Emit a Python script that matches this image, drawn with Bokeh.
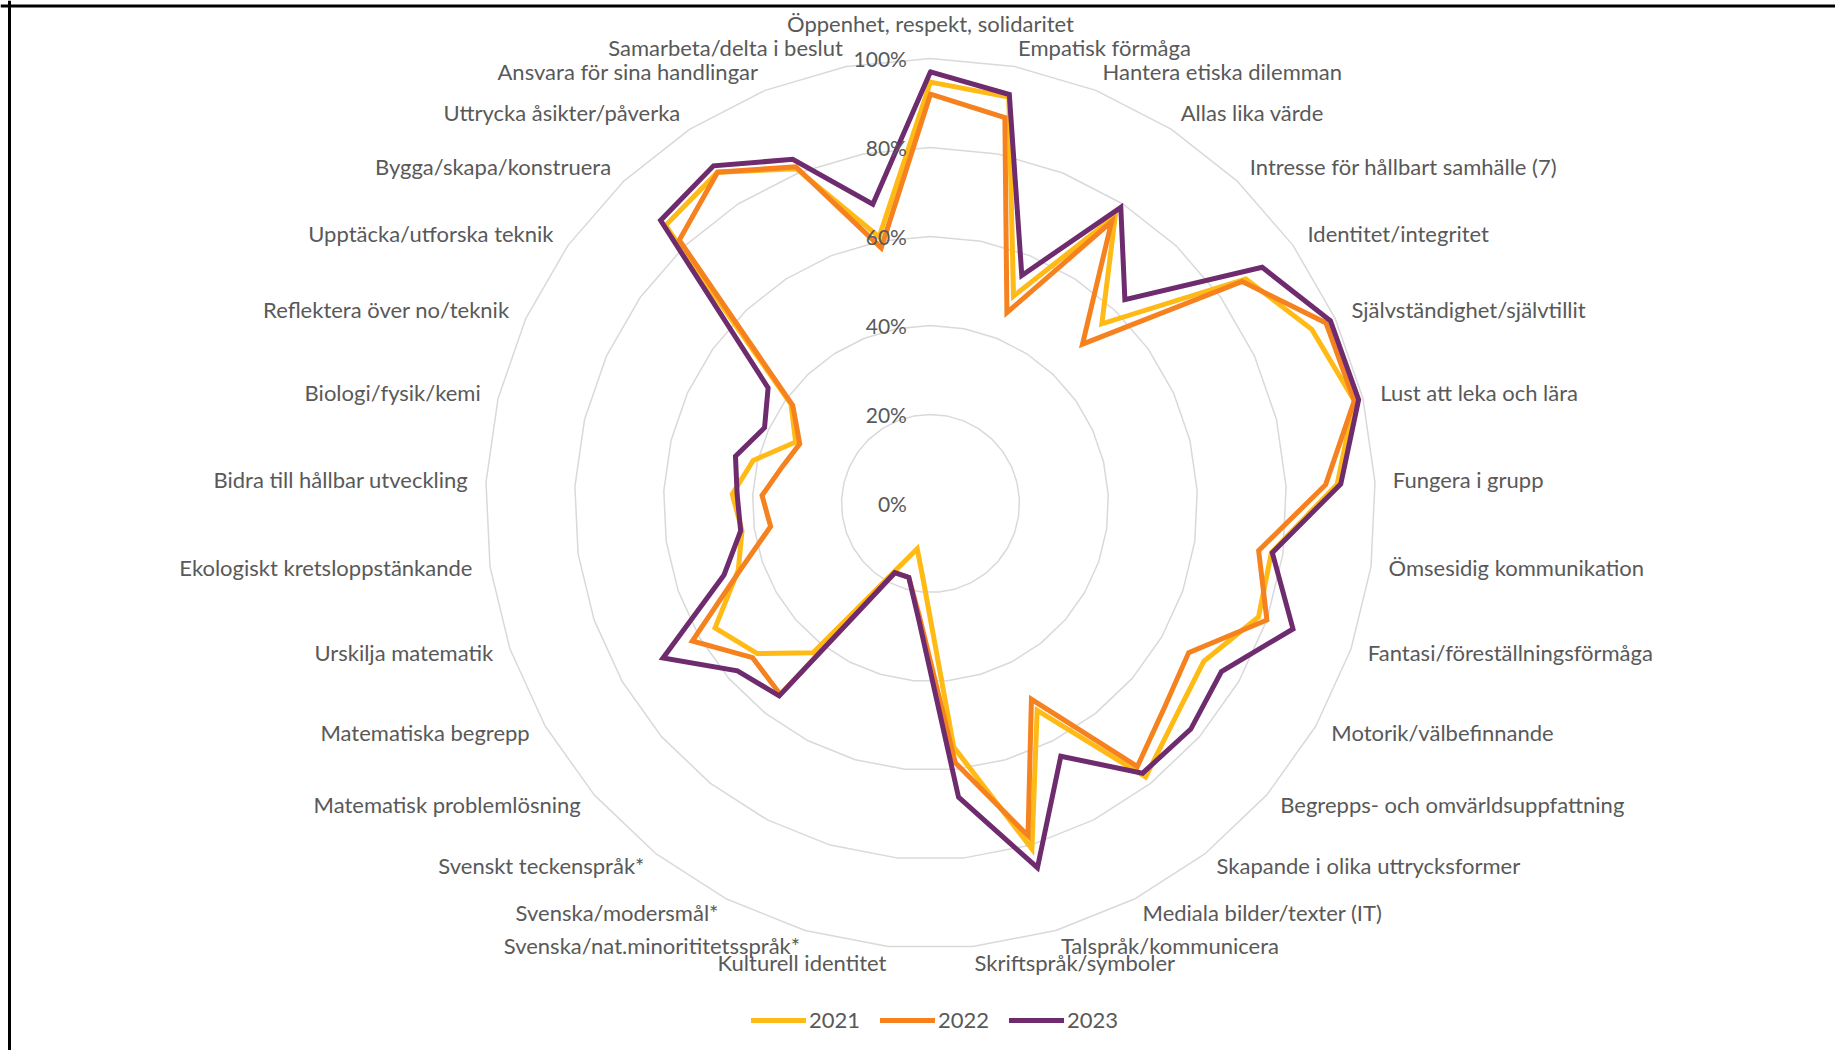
import numpy as np
from bokeh.plotting import figure
from bokeh.models import Range1d, Legend, LegendItem, Span
from bokeh.embed import file_html
from bokeh.resources import INLINE
from bokeh.core.properties import value

categories = [
    "Öppenhet, respekt, solidaritet", "Empatisk förmåga", "Hantera etiska dilemman",
    "Allas lika värde", "Intresse för hållbart samhälle (7)", "Identitet/integritet",
    "Självständighet/självtillit", "Lust att leka och lära", "Fungera i grupp",
    "Ömsesidig kommunikation", "Fantasi/föreställningsförmåga", "Motorik/välbefinnande",
    "Begrepps- och omvärldsuppfattning", "Skapande i olika uttrycksformer",
    "Mediala bilder/texter (IT)", "Talspråk/kommunicera", "Skriftspråk/symboler",
    "Kulturell identitet", "Svenska/nat.minorititetsspråk*", "Svenska/modersmål*",
    "Svenskt teckenspråk*", "Matematisk problemlösning", "Matematiska begrepp",
    "Urskilja matematik", "Ekologiskt kretsloppstänkande", "Bidra till hållbar utveckling",
    "Biologi/fysik/kemi", "Reflektera över no/teknik", "Upptäcka/utforska teknik",
    "Bygga/skapa/konstruera", "Uttrycka åsikter/påverka", "Ansvara för sina handlingar",
    "Samarbeta/delta i beslut",
]
y2021 = [94.7, 93.0, 50.2, 76.8, 55.8, 87.0, 94.2, 98.0, 91.5, 77.4, 78.0, 70.9, 73.0,
         78.2, 52.3, 80.9, 55.0, 17.2, 10.6, 16.6, 42.7, 51.5, 55.9, 45.7, 42.8, 44.6,
         41.0, 33.3, 38.5, 86.3, 88.5, 81.0, 61.0]
y2022 = [92.0, 88.3, 46.2, 75.3, 49.5, 86.0, 97.7, 98.0, 88.9, 74.5, 80.0, 67.0, 69.7,
         75.2, 49.5, 77.8, 58.5, 25.7, 17.3, 17.5, 54.6, 52.9, 61.8, 45.1, 36.3, 37.9,
         34.4, 32.3, 38.0, 81.8, 88.5, 81.5, 58.5]
y2023 = [97.0, 93.6, 55.2, 79.1, 63.3, 91.5, 98.8, 99.0, 92.3, 77.6, 86.2, 75.5, 77.4,
         77.1, 63.9, 85.3, 66.3, 26.7, 17.3, 17.5, 55.0, 57.4, 69.4, 49.1, 43.1, 43.5,
         45.1, 41.0, 44.8, 87.9, 90.2, 83.3, 68.5]
series_names = ["2021", "2022", "2023"]
tick_values = [0, 20, 40, 60, 80, 100]
tick_labels = ["0%", "20%", "40%", "60%", "80%", "100%"]

colors = ["#FFBA15", "#F5821F", "#6E2C6E"]
text_color = "#595959"
grid_color = "#D9D9D9"
FONT = "Lato"
FS = "22px"

W, H = 1835, 1050
PX = 4.45            # pixels per percent
CX, CY = 930, 503    # centre in figure pixels
x0 = -CX / PX
x1 = (W - CX) / PX
y1 = CY / PX
y0 = -(H - CY) / PX

p = figure(width=W, height=H, x_range=Range1d(x0, x1), y_range=Range1d(y0, y1),
           min_border=0, toolbar_location=None, output_backend="svg")
p.axis.visible = False
p.grid.visible = False
p.outline_line_color = None
p.background_fill_color = "white"
p.border_fill_color = "white"

N = len(categories)
theta = np.pi / 2 - 2 * np.pi * np.arange(N) / N
ct, st = np.cos(theta), np.sin(theta)

# grid polygons
for tv in tick_values[1:]:
    gx = list(tv * ct) + [tv * ct[0]]
    gy = list(tv * st) + [tv * st[0]]
    p.line(gx, gy, line_color=grid_color, line_width=1.5)

# series
items = []
for name, vals, col in zip(series_names, [y2021, y2022, y2023], colors):
    v = np.array(vals, dtype=float)
    xs = list(v * ct) + [v[0] * ct[0]]
    ys = list(v * st) + [v[0] * st[0]]
    r = p.line(xs, ys, line_color=col, line_width=5, line_join="miter", line_cap="round")
    items.append(LegendItem(label=name, renderers=[r]))

# value axis labels
p.text(x=[-5.3] * len(tick_values), y=tick_values, text=tick_labels,
       text_align="right", text_baseline="middle", text_color=text_color,
       text_font=value(FONT), text_font_size="21px")

# category labels
R = 104.0
DY = 2.0 / PX
groups = {"left": ([], [], []), "right": ([], [], []), "center": ([], [], [])}
for i, c in enumerate(categories):
    if ct[i] > 0.01:
        g = "left"
    elif ct[i] < -0.01:
        g = "right"
    else:
        g = "center"
    rr = R if g != "center" else 107.5
    groups[g][0].append(rr * ct[i])
    groups[g][1].append(rr * st[i] + DY)
    groups[g][2].append(c)
for g, (gx, gy, gt) in groups.items():
    if gt:
        p.text(x=gx, y=gy, text=gt, text_align=g, text_baseline="middle",
               text_color=text_color, text_font=value(FONT), text_font_size=FS)

legend = Legend(items=items, orientation="horizontal", location=(751, 17),
                glyph_width=55, glyph_height=20, label_standoff=3, spacing=20,
                padding=0, margin=0, border_line_color=None, background_fill_alpha=0,
                label_text_font=FONT, label_text_font_size=FS, label_text_color=text_color)
p.add_layout(legend, "center")

# frame lines (left and top)
p.add_layout(Span(location=x0 + 9 / PX, dimension="height", line_color="black", line_width=3))
p.add_layout(Span(location=y1 - 5.5 / PX, dimension="width", line_color="black", line_width=3))

open("out.html", "w").write(file_html(p, INLINE))
